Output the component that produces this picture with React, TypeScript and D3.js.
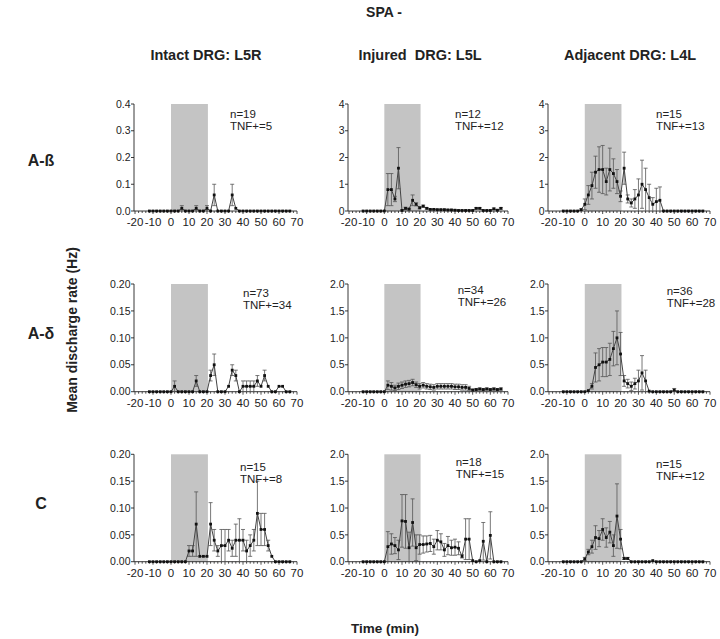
import React from "react";
import * as d3 from "d3";

// time points (min)
const TIMES = [-12, -10, -8, -6, -4, -2, 0, 2, 4, 6, 8, 10, 12, 14, 16, 18, 20, 22, 24, 26, 28, 30, 32, 34, 36, 38, 40, 42, 44, 46, 48, 50, 52, 54, 56, 58, 60, 62, 64, 66];
const X_TICKS = [-20, -10, 0, 10, 20, 30, 40, 50, 60, 70];
const COL_TITLES = ["Intact DRG: L5R", "Injured  DRG: L5L", "Adjacent DRG: L4L"];
const ROW_TITLES = ["A-ß", "A-δ", "C"];
const N_LABELS = ["n=19", "n=12", "n=15", "n=73", "n=34", "n=36", "n=15", "n=18", "n=15"];
const TNF_LABELS = ["TNF+=5", "TNF+=12", "TNF+=13", "TNF+=34", "TNF+=26", "TNF+=28", "TNF+=8", "TNF+=15", "TNF+=12"];
const Y_TICKS_SMALL_B = [0, 0.1, 0.2, 0.3, 0.4];
const Y_TICKS_4 = [0, 1, 2, 3, 4];
const Y_TICKS_SMALL = [0, 0.05, 0.1, 0.15, 0.2];
const Y_TICKS_2 = [0, 0.5, 1.0, 1.5, 2.0];

// A-beta
const abIntactMean = [0, 0, 0, 0, 0, 0, 0, 0, 0, 0.01, 0, 0, 0, 0.01, 0, 0, 0.01, 0, 0.06, 0, 0, 0, 0, 0.06, 0.01, 0, 0, 0, 0, 0, 0, 0, 0, 0, 0, 0, 0, 0, 0, 0];
const abIntactSem = [0, 0, 0, 0, 0, 0, 0, 0, 0, 0.01, 0, 0, 0, 0.01, 0, 0, 0.01, 0, 0.04, 0, 0, 0, 0, 0.04, 0, 0, 0, 0, 0, 0, 0, 0, 0, 0, 0, 0, 0, 0, 0, 0];
const abInjuredMean = [0, 0, 0, 0, 0, 0, 0, 0.8, 0.8, 0.45, 1.6, 0.02, 0.1, 0.07, 0.4, 0.25, 0.12, 0.18, 0.1, 0.06, 0.06, 0.05, 0.05, 0.05, 0.04, 0.04, 0.03, 0.02, 0.02, 0.02, 0.02, 0.02, 0.1, 0.1, 0.02, 0.02, 0.02, 0.08, 0.03, 0.1];
const abInjuredSem = [0, 0, 0, 0, 0, 0, 0, 0.6, 0.6, 0.1, 0.77, 0.02, 0.04, 0.03, 0.2, 0.06, 0.04, 0.04, 0.03, 0.02, 0.02, 0.02, 0.02, 0.02, 0.02, 0.02, 0.02, 0.02, 0.02, 0.02, 0.02, 0.02, 0.03, 0.03, 0.02, 0.02, 0.02, 0.03, 0.02, 0.03];
const abAdjMean = [0, 0, 0, 0, 0, 0.05, 0.25, 0.6, 0.95, 1.45, 1.55, 1.55, 1.1, 1.55, 1.4, 1.1, 0.55, 1.6, 0.45, 0.3, 0.45, 0.6, 1.0, 0.8, 0.5, 0.25, 0.35, 0.4, 0, 0, 0, 0, 0, 0, 0, 0, 0, 0, 0, 0];
const abAdjSem = [0, 0, 0, 0, 0, 0.03, 0.2, 0.35, 0.5, 0.6, 0.85, 0.9, 0.5, 0.8, 0.55, 0.45, 0.2, 0.6, 0.15, 0.15, 0.35, 0.6, 0.9, 0.8, 0.5, 0.25, 0.5, 0.5, 0, 0, 0, 0, 0, 0, 0, 0, 0, 0, 0, 0];

// A-delta
const adIntactMean = [0, 0, 0, 0, 0, 0, 0, 0.01, 0, 0, 0, 0, 0, 0.02, 0, 0, 0, 0.03, 0.05, 0, 0, 0, 0.01, 0.04, 0.03, 0, 0.01, 0.01, 0.01, 0.01, 0.02, 0.01, 0.03, 0.01, 0, 0, 0.01, 0.01, 0, 0];
const adIntactSem = [0, 0, 0, 0, 0, 0, 0, 0.01, 0, 0, 0, 0, 0, 0.01, 0, 0, 0, 0.01, 0.02, 0, 0, 0, 0, 0.01, 0.01, 0, 0.01, 0.01, 0.01, 0.01, 0.01, 0, 0.01, 0, 0, 0, 0, 0, 0, 0];
const adInjuredMean = [0, 0, 0, 0, 0, 0, 0, 0.12, 0.1, 0.07, 0.1, 0.12, 0.14, 0.15, 0.17, 0.13, 0.1, 0.12, 0.1, 0.09, 0.08, 0.1, 0.1, 0.1, 0.1, 0.1, 0.09, 0.09, 0.08, 0.08, 0.06, 0.03, 0.04, 0.05, 0.04, 0.05, 0.04, 0.05, 0.04, 0.05];
const adInjuredSem = [0, 0, 0, 0, 0, 0, 0, 0.08, 0.07, 0.05, 0.06, 0.06, 0.06, 0.06, 0.06, 0.05, 0.05, 0.05, 0.05, 0.05, 0.05, 0.05, 0.05, 0.05, 0.05, 0.05, 0.05, 0.05, 0.05, 0.05, 0.04, 0.02, 0.02, 0.02, 0.02, 0.02, 0.02, 0.02, 0.02, 0.02];
const adAdjMean = [0, 0, 0, 0, 0, 0, 0, 0.02, 0.1, 0.45, 0.5, 0.55, 0.55, 0.6, 0.8, 1.0, 0.7, 0.2, 0.15, 0.1, 0.15, 0.2, 0.35, 0.2, 0.01, 0, 0, 0, 0, 0, 0, 0.03, 0, 0, 0, 0, 0, 0, 0, 0];
const adAdjSem = [0, 0, 0, 0, 0, 0, 0, 0, 0.05, 0.27, 0.3, 0.27, 0.27, 0.3, 0.32, 0.5, 0.4, 0.1, 0.08, 0.08, 0.1, 0.2, 0.32, 0.2, 0, 0, 0, 0, 0, 0, 0, 0.03, 0, 0, 0, 0, 0, 0, 0, 0];

// C
const cIntactMean = [0, 0, 0, 0, 0, 0, 0, 0, 0, 0, 0, 0.02, 0.02, 0.07, 0.01, 0.01, 0.01, 0.07, 0.04, 0.02, 0.03, 0.03, 0.04, 0.025, 0.04, 0.04, 0.04, 0.02, 0.03, 0.04, 0.09, 0.06, 0.06, 0.03, 0.01, 0, 0, 0, 0, 0];
const cIntactSem = [0, 0, 0, 0, 0, 0, 0, 0, 0, 0, 0, 0.01, 0.01, 0.06, 0, 0, 0, 0.04, 0.02, 0.01, 0.03, 0.03, 0.02, 0.015, 0.03, 0.04, 0.02, 0.02, 0.02, 0.02, 0.06, 0.03, 0.03, 0.01, 0, 0, 0, 0, 0, 0];
const cInjuredMean = [0, 0, 0, 0, 0, 0, 0, 0.28, 0.33, 0.3, 0.22, 0.76, 0.75, 0.26, 0.73, 0.26, 0.32, 0.32, 0.33, 0.34, 0.28, 0.4, 0.37, 0.22, 0.3, 0.26, 0.27, 0.25, 0.1, 0.42, 0.42, 0.02, 0, 0.02, 0.38, 0, 0.49, 0, 0, 0];
const cInjuredSem = [0, 0, 0, 0, 0, 0, 0, 0.28, 0.19, 0.15, 0.18, 0.49, 0.5, 0.29, 0.44, 0.24, 0.18, 0.16, 0.15, 0.15, 0.14, 0.18, 0.15, 0.12, 0.17, 0.14, 0.15, 0.12, 0.03, 0.38, 0.38, 0, 0, 0, 0.35, 0, 0.44, 0, 0, 0];
const cAdjMean = [0, 0, 0, 0, 0, 0, 0.05, 0.18, 0.28, 0.45, 0.43, 0.6, 0.45, 0.55, 0.3, 0.85, 0.42, 0.06, 0.06, 0, 0, 0, 0, 0, 0, 0.02, 0, 0, 0, 0, 0, 0, 0, 0, 0, 0, 0, 0, 0, 0];
const cAdjSem = [0, 0, 0, 0, 0, 0, 0.03, 0.05, 0.12, 0.22, 0.15, 0.2, 0.18, 0.2, 0.2, 0.6, 0.18, 0.02, 0.02, 0, 0, 0, 0, 0, 0, 0, 0, 0, 0, 0, 0, 0, 0, 0, 0, 0, 0, 0, 0, 0];

// layout
const COL_X = [[135, 297], [349, 508], [549, 710]];
const ROW_Y = [[211, 104], [391.7, 284], [561.7, 454.3]];
const ANN = [[95, 14], [106, 14], [107, 14], [108, 12.5], [108.7, 9.5], [117.7, 11], [105, 17], [106.7, 11.5], [107, 13.5]];
const FONT = "'Liberation Sans', Arial, Helvetica, sans-serif";

const PANELS = [
  { mean: abIntactMean, sem: abIntactSem, yMax: 0.4, ticks: Y_TICKS_SMALL_B, fmt: ".1f" },
  { mean: abInjuredMean, sem: abInjuredSem, yMax: 4, ticks: Y_TICKS_4, fmt: "d" },
  { mean: abAdjMean, sem: abAdjSem, yMax: 4, ticks: Y_TICKS_4, fmt: "d" },
  { mean: adIntactMean, sem: adIntactSem, yMax: 0.2, ticks: Y_TICKS_SMALL, fmt: ".2f" },
  { mean: adInjuredMean, sem: adInjuredSem, yMax: 2, ticks: Y_TICKS_2, fmt: ".1f" },
  { mean: adAdjMean, sem: adAdjSem, yMax: 2, ticks: Y_TICKS_2, fmt: ".1f" },
  { mean: cIntactMean, sem: cIntactSem, yMax: 0.2, ticks: Y_TICKS_SMALL, fmt: ".2f" },
  { mean: cInjuredMean, sem: cInjuredSem, yMax: 2, ticks: Y_TICKS_2, fmt: ".1f" },
  { mean: cAdjMean, sem: cAdjSem, yMax: 2, ticks: Y_TICKS_2, fmt: ".1f" },
];

function Panel({ idx }: { idx: number }) {
  const p = PANELS[idx];
  const row = Math.floor(idx / 3);
  const col = idx % 3;
  const x = d3.scaleLinear().domain([-20, 70]).range(COL_X[col]);
  const y = d3.scaleLinear().domain([0, p.yMax]).range(ROW_Y[row]);
  const f = d3.format(p.fmt);
  const pts = TIMES.map((t, i) => ({ t, m: p.mean[i], s: p.sem[i] }));
  const line = d3.line<{ t: number; m: number }>().x((d) => x(d.t)).y((d) => y(d.m));
  const minor = d3.range(-20, 71, 2);
  const y0 = y(0);
  const axX = x(-20) - 1;
  return (
    <g>
      <rect x={x(0)} y={y(p.yMax)} width={x(20.5) - x(0)} height={y0 - y(p.yMax)} fill="#c4c4c4" />
      {/* y axis */}
      <line x1={axX} x2={axX} y1={y(p.yMax)} y2={y0} stroke="#222" strokeWidth={0.9} />
      {p.ticks.map((v) => (
        <g key={v}>
          <line x1={axX - 3} x2={axX} y1={y(v)} y2={y(v)} stroke="#222" strokeWidth={0.9} />
          <text x={axX - 3.5} y={y(v)} dy="0.35em" textAnchor="end" fontSize={10.5} fontFamily={FONT} fill="#222">
            {v === 0 && p.fmt === "d" ? "0" : f(v)}
          </text>
        </g>
      ))}
      {/* x axis */}
      <line x1={axX} x2={x(70)} y1={y0} y2={y0} stroke="#222" strokeWidth={0.9} />
      {minor.map((v) => (
        <line key={"m" + v} x1={x(v)} x2={x(v)} y1={y0} y2={y0 + (v % 10 === 0 ? 3 : 2)} stroke="#222" strokeWidth={0.8} />
      ))}
      {X_TICKS.map((v) => (
        <text key={"x" + v} x={x(v)} y={y0 + 15} textAnchor="middle" fontSize={11.5} fontFamily={FONT} fill="#222">
          {v}
        </text>
      ))}
      {/* error bars */}
      {pts.filter((d) => d.s > 0).map((d) => {
        const top = y(Math.min(d.m + d.s, p.yMax));
        const bot = y(Math.max(d.m - d.s, 0));
        const cx = x(d.t);
        return (
          <g key={"e" + d.t} stroke="#555" strokeWidth={0.8}>
            <line x1={cx} x2={cx} y1={top} y2={bot} />
            <line x1={cx - 2} x2={cx + 2} y1={top} y2={top} />
            {d.m - d.s > 0 && <line x1={cx - 2} x2={cx + 2} y1={bot} y2={bot} />}
          </g>
        );
      })}
      <path d={line(pts) || ""} fill="none" stroke="#444" strokeWidth={1} />
      {pts.map((d) => (
        <rect key={"p" + d.t} x={x(d.t) - 1.4} y={y(d.m) - 1.4} width={2.8} height={2.8} fill="#111" />
      ))}
      <text x={x(-20) + ANN[idx][0]} y={y(p.yMax) + ANN[idx][1]} fontSize={11.5} fontFamily={FONT} fill="#222">
        {N_LABELS[idx]}
      </text>
      <text x={x(-20) + ANN[idx][0]} y={y(p.yMax) + ANN[idx][1] + 12} fontSize={11.5} fontFamily={FONT} fill="#222">
        {TNF_LABELS[idx]}
      </text>
    </g>
  );
}

export default function App() {
  const colCenters = [206, 420, 630];
  const rowCenters = [160, 333, 503];
  return (
    <svg width={720} height={639} style={{ position: "absolute", left: 0, top: 0, background: "#fff" }}>
      <rect width={720} height={639} fill="#fff" />
      <text x={384} y={17} textAnchor="middle" fontSize={14} fontWeight="bold" fontFamily={FONT} fill="#222">SPA -</text>
      {COL_TITLES.map((t, i) => (
        <text key={t} x={colCenters[i]} y={60} textAnchor="middle" fontSize={14.5} fontWeight="bold" fontFamily={FONT} fill="#222" style={{ whiteSpace: "pre" }}>
          {t}
        </text>
      ))}
      {ROW_TITLES.map((t, i) => (
        <text key={t} x={41} y={rowCenters[i]} dy="0.35em" textAnchor="middle" fontSize={16} fontWeight="bold" fontFamily={FONT} fill="#222">
          {t}
        </text>
      ))}
      <text transform="translate(72,330) rotate(-90)" textAnchor="middle" dy="0.35em" fontSize={14} fontWeight="bold" fontFamily={FONT} fill="#222">
        Mean discharge rate (Hz)
      </text>
      <text x={385} y={633} textAnchor="middle" fontSize={13.5} fontWeight="bold" fontFamily={FONT} fill="#222">
        Time (min)
      </text>
      {PANELS.map((_, i) => (
        <Panel key={i} idx={i} />
      ))}
    </svg>
  );
}
